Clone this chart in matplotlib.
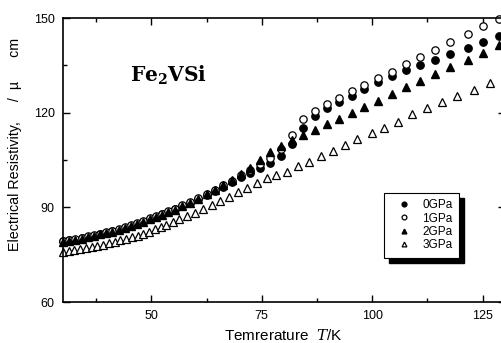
import matplotlib
matplotlib.use("Agg")
import matplotlib.pyplot as plt
from matplotlib.ticker import MultipleLocator
from matplotlib.patches import Rectangle

plt.rcParams['font.family'] = ['Liberation Sans', 'DejaVu Sans']
plt.rcParams['mathtext.fontset'] = 'dejavuserif'

# temperatures (K) for 0, 1, 2 GPa runs
temps_a = [30.0, 31.4, 32.8, 34.2, 35.6, 37.0, 38.4, 39.8, 41.2, 42.6, 44.0, 45.4,
           46.8, 48.2, 49.6, 51.0, 52.4, 53.8, 55.3, 57.0, 58.8, 60.6, 62.5, 64.4,
           66.3, 68.3, 70.4, 72.4, 74.6, 76.9, 79.3, 81.9, 84.4, 87.1, 89.8, 92.4,
           95.4, 98.2, 101.3, 104.4, 107.6, 110.9, 114.3, 117.7, 121.6, 125.2, 128.8]

rho_0gpa = [79.2, 79.5, 79.8, 80.2, 80.6, 81.0, 81.5, 81.9, 82.4, 82.9, 83.5, 84.2,
            84.8, 85.5, 86.3, 87.0, 87.8, 88.5, 89.4, 90.4, 91.5, 92.7, 93.9, 95.2,
            96.5, 97.9, 99.5, 101.0, 102.6, 104.2, 106.3, 110.0, 115.2, 119.0, 121.4, 123.3,
            125.4, 127.6, 129.7, 131.6, 133.4, 135.1, 136.8, 138.6, 140.5, 142.4, 144.3]

rho_1gpa = [79.4, 79.7, 80.0, 80.4, 80.8, 81.2, 81.7, 82.1, 82.6, 83.1, 83.7, 84.4,
            85.0, 85.7, 86.5, 87.2, 88.0, 88.7, 89.6, 90.6, 91.8, 93.0, 94.3, 95.6,
            97.0, 98.5, 100.2, 101.9, 103.7, 105.6, 108.5, 113.0, 118.0, 120.5, 122.7, 124.6,
            126.8, 128.8, 131.0, 133.0, 135.3, 137.6, 139.9, 142.3, 144.9, 147.4, 149.7]

rho_2gpa = [79.1, 79.4, 79.7, 80.1, 80.5, 80.9, 81.4, 81.8, 82.3, 82.8, 83.4, 84.1,
            84.7, 85.4, 86.2, 86.9, 87.7, 88.4, 89.3, 90.4, 91.5, 92.8, 94.1, 95.5,
            97.0, 98.6, 100.5, 102.4, 105.1, 107.6, 109.4, 111.3, 112.9, 114.5, 116.4, 118.0,
            119.9, 121.8, 123.8, 126.0, 128.0, 130.0, 132.2, 134.4, 136.7, 138.9, 141.4]

# temperatures (K) for 3 GPa run
temps_b = [30.0, 31.3, 32.6, 33.9, 35.2, 36.5, 37.8, 39.1, 40.4, 41.7, 43.0, 44.3,
           45.6, 46.9, 48.2, 49.5, 50.8, 52.1, 53.4, 54.8, 56.3, 58.1, 60.0, 61.8,
           63.8, 65.6, 67.6, 69.7, 71.7, 74.0, 76.2, 78.3, 80.8, 83.3, 85.7, 88.5,
           91.2, 93.9, 96.6, 100.0, 102.7, 105.9, 109.0, 112.4, 115.8, 119.2, 123.1, 126.7]

rho_3gpa = [75.8, 76.1, 76.4, 76.7, 77.0, 77.4, 77.8, 78.1, 78.6, 79.0, 79.5, 80.0,
            80.5, 81.0, 81.6, 82.2, 83.0, 83.7, 84.5, 85.3, 86.3, 87.2, 88.2, 89.5,
            90.7, 92.0, 93.3, 94.8, 96.1, 97.7, 99.3, 100.2, 101.2, 103.1, 104.3, 106.2,
            107.8, 109.7, 111.6, 113.5, 115.1, 117.0, 119.5, 121.5, 123.4, 125.3, 127.2, 129.4]

fig = plt.figure(figsize=(5.02, 3.43), dpi=100)
ax = fig.add_axes([0.1255, 0.1195, 0.8797, 0.828])

ms = 5.3
ax.plot(temps_a, rho_0gpa, 'o', color='black', ms=ms, label='0GPa', clip_on=False)
ax.plot(temps_a, rho_1gpa, 'o', mfc='white', mec='black', mew=0.9, ms=ms, label='1GPa', clip_on=False)
ax.plot(temps_a, rho_2gpa, '^', color='black', ms=ms, label='2GPa', clip_on=False)
ax.plot(temps_b, rho_3gpa, '^', mfc='white', mec='black', mew=0.9, ms=ms, label='3GPa', clip_on=False)

ax.set_xlim(30, 130)
ax.set_ylim(60, 150)
ax.xaxis.set_major_locator(MultipleLocator(25))
ax.xaxis.set_minor_locator(MultipleLocator(12.5))
ax.yaxis.set_major_locator(MultipleLocator(30))
ax.yaxis.set_minor_locator(MultipleLocator(15))
ax.tick_params(which='both', direction='in', top=True, right=True, labelsize=9, pad=6)
ax.tick_params(which='major', length=5, width=1)
ax.tick_params(which='minor', length=3, width=1)
for sp in ax.spines.values():
    sp.set_linewidth(1.2)

ax.set_xlabel('Temrerature  $\\it{T}$/K', fontsize=11, labelpad=4)
ax.set_ylabel('Electrical Resistivity,     /  \u00b5      cm', fontsize=10.3)
ax.yaxis.set_label_coords(-0.093, 0.556)

ax.text(0.152, 0.775, r'$\mathbf{Fe_2VSi}$', transform=ax.transAxes, fontsize=14.5)

leg = ax.legend(loc='upper left', bbox_to_anchor=(0.727, 0.385), frameon=True, fancybox=False,
                edgecolor='black', facecolor='white', framealpha=1, fontsize=8.5,
                handlelength=2.2, handletextpad=0.5, labelspacing=0.12, markerscale=0.65,
                borderpad=0.55, borderaxespad=0)
leg.get_frame().set_linewidth(0.8)
leg.set_zorder(5)

fig.canvas.draw()
bb = leg.get_window_extent().transformed(ax.transAxes.inverted())
shadow = Rectangle((bb.x0 + 0.011, bb.y0 - 0.018), bb.width, bb.height, transform=ax.transAxes,
                   facecolor='black', edgecolor='black', zorder=4)
ax.add_patch(shadow)

fig.savefig('out.png', dpi=100)
